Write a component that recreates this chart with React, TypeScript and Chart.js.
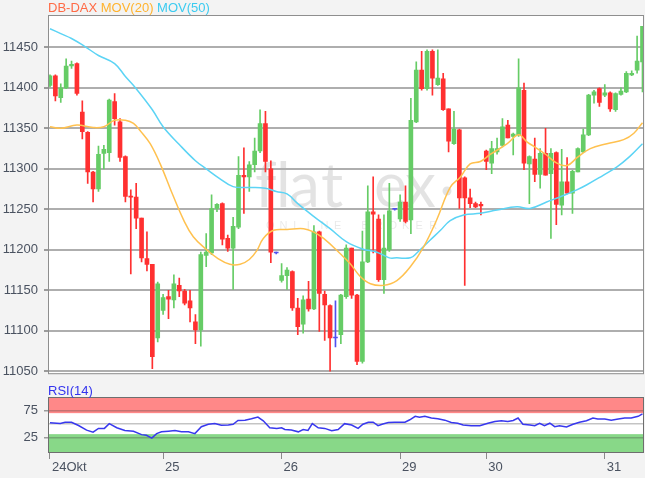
import React, { useEffect, useRef } from 'react';
import { Chart, registerables } from 'chart.js';

Chart.register(...registerables);

// ---- Data ----
const dayLabels = ['24Okt', '25', '26', '29', '30', '31'];
const dayStartIdx = [0, 21, 43, 65, 81, 103];
const priceTicks = [11050, 11100, 11150, 11200, 11250, 11300, 11350, 11400, 11450];
const rsiTicks = [25, 50, 75];

const openP = [
  11403, 11415, 11388, 11400, 11427, 11430, 11370, 11345, 11296, 11275,
  11319, 11320, 11383, 11358, 11315, 11266, 11265, 11239, 11189, 11182,
  11091, 11125, 11142, 11138, 11156, 11149, 11137, 11111, 11101, 11193,
  11196, 11251, 11257, 11214, 11202, 11228, 11292, 11290, 11305, 11322,
  11356, 11300, 11196, 11162, 11168, 11173, 11128, 11108, 11139, 11127,
  11222, 11145, 11131, 11091, 11095, 11142, 11202, 11144, 11062, 11185,
  11247, 11238, 11163, 11200, 11250, 11238, 11259, 11237, 11358, 11422,
  11399, 11445, 11404, 11411, 11374, 11331, 11348, 11289, 11264, 11257,
  11256, 11322, 11307, 11321, 11329, 11354, 11340, 11342, 11397, 11306,
  11312, 11293, 11319, 11294, 11320, 11255, 11284, 11270, 11296, 11321,
  11342, 11391, 11399, 11391, 11394, 11373, 11392, 11395, 11416, 11422,
  11432,
];
const highP = [
  11416, 11416, 11405, 11436, 11433, 11431, 11384, 11346, 11297, 11328,
  11329, 11386, 11393, 11362, 11316, 11274, 11282, 11239, 11222, 11182,
  11160, 11145, 11150, 11169, 11165, 11151, 11150, 11120, 11197, 11220,
  11268, 11257, 11258, 11218, 11240, 11315, 11326, 11309, 11338, 11373,
  11371, 11310, 11197, 11183, 11178, 11174, 11140, 11143, 11161, 11230,
  11223, 11149, 11132, 11137, 11145, 11206, 11202, 11145, 11223, 11279,
  11290, 11243, 11243, 11282, 11251, 11268, 11279, 11387, 11432, 11445,
  11447, 11447, 11447, 11418, 11374, 11371, 11349, 11290, 11275, 11259,
  11259, 11323, 11334, 11338, 11362, 11360, 11344, 11436, 11406, 11316,
  11338, 11325, 11350, 11325, 11321, 11324, 11314, 11298, 11326, 11349,
  11392, 11397, 11400, 11404, 11395, 11394, 11400, 11420, 11421, 11464,
  11476,
];
const lowP = [
  11401, 11384, 11382, 11399, 11424, 11391, 11337, 11282, 11259, 11272,
  11300, 11309, 11354, 11309, 11259, 11170, 11226, 11185, 11174, 11053,
  11086, 11120, 11115, 11128, 11142, 11132, 11111, 11084, 11081, 11179,
  11194, 11247, 11206, 11198, 11151, 11226, 11245, 11272, 11296, 11320,
  11296, 11184, 11195, 11160, 11151, 11125, 11095, 11097, 11124, 11126,
  11099, 11088, 11050, 11080, 11084, 11140, 11140, 11058, 11060, 11184,
  11196, 11161, 11146, 11198, 11249, 11235, 11233, 11220, 11357, 11397,
  11397, 11391, 11403, 11372, 11321, 11330, 11251, 11156, 11252, 11252,
  11243, 11299, 11294, 11318, 11327, 11338, 11317, 11340, 11299, 11257,
  11284, 11276, 11292, 11214, 11231, 11243, 11269, 11245, 11296, 11320,
  11341, 11381, 11377, 11389, 11371, 11371, 11391, 11394, 11415, 11418,
  11395,
];
const closeP = [
  11415, 11390, 11400, 11427, 11429, 11393, 11346, 11296, 11275, 11318,
  11324, 11385, 11362, 11314, 11266, 11265, 11239, 11190, 11182, 11068,
  11158, 11141, 11139, 11158, 11149, 11134, 11128, 11101, 11194, 11197,
  11251, 11256, 11213, 11202, 11229, 11292, 11290, 11305, 11322, 11356,
  11309, 11197, 11196, 11168, 11175, 11128, 11105, 11138, 11127, 11222,
  11146, 11132, 11091, 11091, 11144, 11202, 11144, 11062, 11185, 11247,
  11244, 11163, 11202, 11248, 11250, 11259, 11235, 11360, 11422, 11399,
  11445, 11412, 11412, 11373, 11334, 11349, 11264, 11264, 11257, 11253,
  11254, 11309, 11325, 11325, 11352, 11338, 11343, 11400, 11307, 11315,
  11293, 11319, 11292, 11319, 11256, 11284, 11270, 11297, 11325, 11342,
  11391, 11395, 11382, 11394, 11374, 11393, 11396, 11418, 11418, 11433,
  11476,
];

const ma20X = [0, 2, 5, 8, 10, 12, 14, 15.5, 17, 18.6, 20.4, 22.9, 24.8, 26.6, 29.1, 31, 33.4, 35.3, 37, 38.4, 39.6, 41.5, 44, 47.1, 48.9, 50.8, 53.9, 55.7, 57.6, 59.5, 61.9, 64.4, 66.9, 69.4, 71.8, 74.3, 76.2, 78, 79.9, 81.8, 84.9, 87, 88.6, 90, 92, 94.1, 96, 97.9, 100.3, 103.4, 106.5, 108.4, 110];
const ma20Y = [11352, 11350, 11354, 11351, 11352, 11360, 11360, 11356, 11345, 11331, 11307, 11266, 11237, 11216, 11200, 11190, 11182, 11182, 11188, 11199, 11214, 11224, 11225, 11226, 11222, 11214, 11195, 11183, 11167, 11158, 11156, 11162, 11179, 11204, 11237, 11277, 11290, 11306, 11309, 11318, 11331, 11342, 11333, 11327, 11318, 11307, 11304, 11314, 11325, 11331, 11336, 11344, 11357];

const ma50X = [0, 2, 4, 6.5, 9, 12, 14, 16, 19, 21, 24, 27, 29, 31.5, 34, 37, 40, 42, 44, 46, 49, 52, 55, 58, 60.7, 63, 64.4, 66.9, 68.1, 70.6, 72.5, 74.3, 76.8, 79.9, 83, 86.7, 89.1, 92.2, 95.3, 97.8, 99.6, 102.7, 105.2, 107.6, 110];
const ma50Y = [11473, 11467, 11461, 11451, 11440, 11430, 11414, 11399, 11373, 11352, 11330, 11310, 11300, 11288, 11278, 11277, 11276, 11272, 11269, 11257, 11241, 11226, 11210, 11201, 11197, 11190, 11190, 11190, 11196, 11212, 11224, 11236, 11243, 11245, 11249, 11253, 11251, 11259, 11267, 11274, 11280, 11292, 11302, 11315, 11331];

const rsiX = [0, 1.9, 2.8, 4, 5.3, 6.8, 8, 9, 10.1, 11, 12.4, 13.9, 15.5, 17, 17.9, 18.9, 19.8, 20.7, 22, 23.2, 24.4, 25.7, 26.9, 28.1, 29.4, 30.6, 31.8, 33.1, 34, 34.9, 36.2, 37.4, 38.6, 39.6, 40.8, 42.1, 43, 43.6, 44.8, 46.1, 47, 47.9, 48.7, 49.8, 51, 52.3, 53.5, 54.7, 56, 57.2, 58.1, 59.1, 60, 60.9, 61.8, 62.8, 64, 65.9, 66.8, 67.8, 68.6, 69.6, 70.8, 72, 73.3, 74.5, 75.7, 76.7, 78.2, 79.8, 81.3, 82.6, 83.8, 85, 86, 86.9, 87.8, 89.1, 90, 90.9, 91.8, 92.8, 93.7, 94.6, 95.9, 97.1, 98.3, 99.6, 100.8, 101.7, 103, 104.2, 105.5, 106.7, 107.9, 109.2, 110];
const rsiY = [52, 51, 53, 53, 47, 38.5, 34.6, 41.7, 41.7, 50.6, 42.9, 37.8, 36.5, 30.1, 28.8, 23.7, 32, 35.3, 36.5, 37.8, 35.3, 35.3, 32, 44.9, 49.4, 50.6, 47.4, 48, 49.4, 56.4, 57, 59.6, 62.8, 55.8, 42.9, 41.7, 42.9, 39.7, 38.5, 35.3, 39.7, 37.8, 50.6, 42.9, 41.7, 37.2, 39.7, 50.5, 48, 41.7, 49.4, 53.2, 53.2, 46.8, 50, 52.6, 53.2, 53.2, 57.7, 64.1, 62.2, 64.1, 60.9, 59.6, 57, 52.6, 51.3, 48, 46.8, 46.8, 51.3, 54.5, 55.8, 54.5, 56.4, 60.9, 49.4, 48, 46.8, 51.3, 46.8, 51.3, 44.9, 46.8, 44.2, 49.4, 53.2, 55.8, 60.9, 59, 59, 57, 59, 60.9, 60.9, 64.1, 68.6];

// ---- Layout / style constants ----
const X_MIN = -0.37;
const X_MAX = 110.28;
const FONT = '"Liberation Sans", Arial, sans-serif';
const GREEN = '#66CC66';
const RED = '#FF3030';
const BLUE = '#5050F0';
const LABEL_COLOR = '#4a5260';

export default function App() {
  const mainRef = useRef<HTMLCanvasElement>(null);
  const rsiRef = useRef<HTMLCanvasElement>(null);

  useEffect(() => {
    const colors = openP.map((o, i) => (closeP[i] > o ? GREEN : closeP[i] < o ? RED : BLUE));

    const mainPlugin = {
      id: 'mainPlugin',
      beforeDraw(chart: any) {
        const { ctx, chartArea: a } = chart;
        ctx.save();
        ctx.fillStyle = '#ffffff';
        ctx.fillRect(a.left, a.top, a.right - a.left, a.bottom - a.top);
        // watermark
        ctx.fillStyle = 'rgba(0,0,0,0.11)';
        ctx.font = '400 62px Lato, "Open Sans", sans-serif';
        ctx.textBaseline = 'alphabetic';
        const letters: [string, number][] = [['f', 255], ['l', 276], ['a', 289], ['t', 321], ['e', 374], ['x', 405]];
        letters.forEach(([ch, x]) => ctx.fillText(ch, x, 207));
        ctx.beginPath();
        ctx.arc(447, 191, 4.5, 0, Math.PI * 2);
        ctx.fill();
        ctx.fillStyle = 'rgba(0,0,0,0.09)';
        ctx.font = '11px ' + FONT;
        const word = 'ONLINE BROKER';
        for (let i = 0; i < word.length; i++) ctx.fillText(word[i], 266 + i * 13.6, 229);
        ctx.restore();
      },
      afterDraw(chart: any) {
        const { ctx, chartArea: a } = chart;
        ctx.save();
        ctx.strokeStyle = '#8e8e8e';
        ctx.lineWidth = 1;
        ctx.strokeRect(a.left + 0.5, a.top + 0.5, a.right - a.left - 1, a.bottom - a.top);
        ctx.restore();
      },
    };

    const rsiPlugin = {
      id: 'rsiPlugin',
      beforeDraw(chart: any) {
        const { ctx, chartArea: a, scales } = chart;
        const y = scales.y;
        ctx.save();
        ctx.fillStyle = '#ffffff';
        ctx.fillRect(a.left, a.top, a.right - a.left, a.bottom - a.top);
        const y70 = y.getPixelForValue(70);
        const y31 = y.getPixelForValue(31);
        ctx.fillStyle = '#FF8888';
        ctx.fillRect(a.left, a.top, a.right - a.left, y70 - a.top);
        ctx.fillStyle = '#88D888';
        ctx.fillRect(a.left, y31, a.right - a.left, a.bottom - y31);
        ctx.restore();
      },
      afterDraw(chart: any) {
        const { ctx, chartArea: a } = chart;
        ctx.save();
        ctx.strokeStyle = '#6e6e6e';
        ctx.lineWidth = 1;
        ctx.strokeRect(a.left + 0.5, a.top + 0.5, a.right - a.left - 1, a.bottom - a.top - 1);
        ctx.restore();
      },
    };

    const main = new Chart(mainRef.current as HTMLCanvasElement, {
      type: 'bar',
      data: {
        datasets: [
          {
            type: 'line',
            label: 'MOV(20)',
            data: ma20X.map((x, i) => ({ x, y: ma20Y[i] })),
            borderColor: '#FFC14F',
            borderWidth: 1.5,
            pointRadius: 0,
            tension: 0.4,
            order: 1,
          } as any,
          {
            type: 'line',
            label: 'MOV(50)',
            data: ma50X.map((x, i) => ({ x, y: ma50Y[i] })),
            borderColor: '#5CD4F5',
            borderWidth: 1.5,
            pointRadius: 0,
            tension: 0.4,
            order: 1,
          } as any,
          {
            type: 'bar',
            label: 'body',
            data: openP.map((o, i) => ({ x: i, y: [o, closeP[i]] })),
            backgroundColor: colors,
            barThickness: 4,
            minBarLength: 1,
            grouped: false,
            order: 2,
          } as any,
          {
            type: 'bar',
            label: 'wick',
            data: openP.map((_, i) => ({ x: i, y: [lowP[i], highP[i]] })),
            backgroundColor: colors,
            barThickness: 1,
            grouped: false,
            order: 3,
          } as any,
        ],
      },
      options: {
        responsive: false,
        animation: false,
        devicePixelRatio: 1,
        events: [],
        layout: { padding: { top: 15, right: 1, bottom: 0, left: 0 } },
        plugins: { legend: { display: false }, tooltip: { enabled: false } },
        scales: {
          x: { type: 'linear', min: X_MIN, max: X_MAX, display: false, offset: false },
          y: {
            min: 11047.5,
            max: 11490,
            afterFit: (s: any) => { s.width = 48; },
            afterBuildTicks: (s: any) => { s.ticks = priceTicks.map((v) => ({ value: v })); },
            ticks: { callback: (v: any) => String(v), color: LABEL_COLOR, font: { family: FONT, size: 13 }, padding: 6 },
            grid: { color: '#aeaeae', lineWidth: 2, tickLength: 4, tickColor: '#9a9a9a' },
            border: { display: false },
          },
        },
      } as any,
      plugins: [mainPlugin],
    });

    const rsi = new Chart(rsiRef.current as HTMLCanvasElement, {
      type: 'line',
      data: {
        datasets: [
          {
            label: 'RSI(14)',
            data: rsiX.map((x, i) => ({ x, y: rsiY[i] })),
            borderColor: '#3838EE',
            borderWidth: 1.5,
            pointRadius: 0,
            tension: 0,
          },
        ],
      },
      options: {
        responsive: false,
        animation: false,
        devicePixelRatio: 1,
        events: [],
        layout: { padding: { top: 17, right: 1, bottom: 0, left: 0 } },
        plugins: { legend: { display: false }, tooltip: { enabled: false } },
        scales: {
          x: {
            type: 'linear',
            min: X_MIN,
            max: X_MAX,
            offset: false,
            afterFit: (s: any) => { s.height = 25; },
            afterBuildTicks: (s: any) => { s.ticks = dayStartIdx.map((v) => ({ value: v })); },
            ticks: {
              autoSkip: false,
              maxRotation: 0,
              align: 'start',
              labelOffset: 2,
              padding: 1,
              color: LABEL_COLOR,
              font: { family: FONT, size: 13 },
              callback: (_v: any, i: number) => dayLabels[i],
            },
            grid: { drawOnChartArea: false, drawTicks: true, tickLength: 6, tickColor: '#8a8a8a', lineWidth: 1 },
            border: { display: false },
          },
          y: {
            min: -4,
            max: 100,
            afterFit: (s: any) => { s.width = 48; },
            afterBuildTicks: (s: any) => { s.ticks = rsiTicks.map((v) => ({ value: v })); },
            ticks: {
              callback: (v: any) => (v === 50 ? '' : String(v)),
              color: LABEL_COLOR,
              font: { family: FONT, size: 13 },
              padding: 6,
            },
            grid: {
              color: 'rgba(60,60,60,0.3)',
              lineWidth: 1.5,
              tickLength: 4,
              tickColor: (c: any) => (c.tick && c.tick.value === 50 ? 'rgba(0,0,0,0)' : '#9a9a9a'),
            },
            border: { display: false },
          },
        },
      } as any,
      plugins: [rsiPlugin],
    });

    return () => {
      main.destroy();
      rsi.destroy();
    };
  }, []);

  const textStyle: React.CSSProperties = {
    position: 'absolute',
    font: '13px ' + FONT,
    lineHeight: '15px',
    whiteSpace: 'nowrap',
  };

  return (
    <div style={{ position: 'fixed', left: 0, top: 0, width: 645, height: 478, background: '#f3f3f3', overflow: 'hidden' }}>
      <canvas ref={mainRef} width={645} height={387} style={{ position: 'absolute', left: 0, top: 0, display: 'block' }} />
      <canvas ref={rsiRef} width={645} height={98} style={{ position: 'absolute', left: 0, top: 380, display: 'block' }} />
      <div style={{ ...textStyle, left: 48, top: 0 }}>
        <span style={{ color: '#FF6A45' }}>DB-DAX</span>{' '}
        <span style={{ color: '#FFB32E' }}>MOV(20)</span>{' '}
        <span style={{ color: '#3CCBF0' }}>MOV(50)</span>
      </div>
      <div style={{ ...textStyle, left: 48, top: 383, color: '#3333EE' }}>RSI(14)</div>
    </div>
  );
}
